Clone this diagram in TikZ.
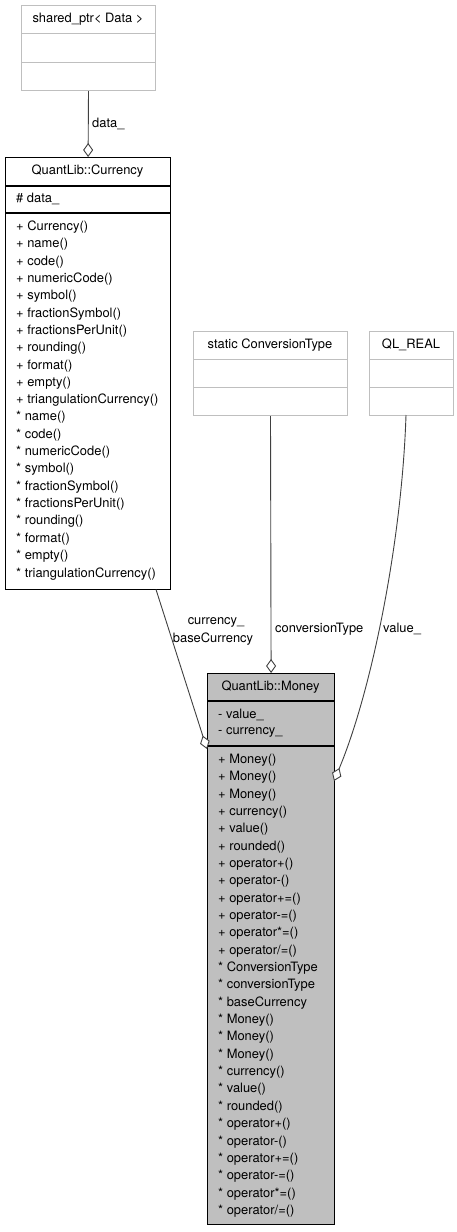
\documentclass[tikz,border=0pt]{standalone}
\usepackage{fontspec}
\setmainfont{TeX Gyre Heros}
\usetikzlibrary{arrows.meta}
\definecolor{edgecol}{RGB}{64,64,64}
\definecolor{grey75}{RGB}{191,191,191}
\begin{document}
\begin{tikzpicture}[x=1pt,y=-1pt,
  txt/.style={font=\fontsize{12.9}{14}\selectfont, inner sep=0pt},
  extbox/.style={draw=grey75, line width=1pt, inner sep=0pt, anchor=north west},
  clsbox/.style={draw=black, line width=1.2pt, inner sep=0pt, anchor=north west},
  extsep/.style={draw=grey75, line width=1pt},
  clssep/.style={draw=black, line width=1.2pt},
  conn/.style={draw=edgecol, line width=0.9pt, -{Diamond[length=14pt,width=10pt,fill=white,line width=0.9pt]}},
  lbl/.style={txt}]
\useasboundingbox (0,0) rectangle (456,1232);

% shared_ptr< Data >
\node[extbox, minimum width=134pt, minimum height=85pt] (sp) at (21,5) {};
\draw[extsep] (21,33) -- (155,33);
\draw[extsep] (21,62) -- (155,62);
\node[txt] (sptitle) at (88,19) {shared\_ptr< Data >};

% QuantLib::Currency
\node[clsbox, minimum width=165pt, minimum height=432pt] (cur) at (5,157) {};
\draw[clssep] (5,186) -- (170,186);
\draw[clssep] (5,213) -- (170,213);
\node[txt] (curtitle) at (87.5,171) {QuantLib::Currency};
\node[txt, anchor=west] (curattr) at (16,199) {\# data\_};
\foreach \m [count=\i from 0] in {+ Currency(), + name(), + code(), + numericCode(), + symbol(), + fractionSymbol(), + fractionsPerUnit(), + rounding(), + format(), + empty(), + triangulationCurrency(), * name(), * code(), * numericCode(), * symbol(), * fractionSymbol(), * fractionsPerUnit(), * rounding(), * format(), * empty(), * triangulationCurrency()}
  \node[txt, anchor=west] (curm\i) at (16,227+17.33*\i) {\m};

% static ConversionType
\node[extbox, minimum width=154pt, minimum height=84pt] (ct) at (193,331) {};
\draw[extsep] (193,359) -- (347,359);
\draw[extsep] (193,387) -- (347,387);
\node[txt] (cttitle) at (270,345) {static ConversionType};

% QL_REAL
\node[extbox, minimum width=84pt, minimum height=84pt] (ql) at (369,331) {};
\draw[extsep] (369,359) -- (453,359);
\draw[extsep] (369,387) -- (453,387);
\node[txt] (qltitle) at (411,345) {QL\_REAL};

% QuantLib::Money
\node[clsbox, fill=grey75, minimum width=127pt, minimum height=551pt] (money) at (207,673) {};
\draw[clssep] (207,701) -- (334,701);
\draw[clssep] (207,746) -- (334,746);
\node[txt] (moneytitle) at (270.5,687) {QuantLib::Money};
\node[txt, anchor=west] (moneya1) at (218,715) {- value\_};
\node[txt, anchor=west] (moneya2) at (218,732) {- currency\_};
\foreach \m [count=\i from 0] in {+ Money(), + Money(), + Money(), + currency(), + value(), + rounded(), + operator+(), + operator-(), + operator+=(), + operator-=(), + operator*=(), + operator/=(), * ConversionType, * conversionType, * baseCurrency, * Money(), * Money(), * Money(), * currency(), * value(), * rounded(), * operator+(), * operator-(), * operator+=(), * operator-=(), * operator*=(), * operator/=()}
  \node[txt, anchor=west] (moneym\i) at (218,760+17.35*\i) {\m};

% connectors
\draw[conn] (sp.south) -- (cur.north);
\node[lbl, anchor=west] (ldata) at (92,124) {data\_};

\coordinate (curout) at (156,589.5);
\coordinate (moneyin) at (207,749);
\draw[conn] (curout) -- (moneyin);
\node[lbl] (lcur1) at (216,622) {currency\_};
\node[lbl] (lcur2) at (213,639) {baseCurrency};

\draw[conn] (ct.south) -- (money.north);
\node[lbl, anchor=west] (lct) at (275,629) {conversionType};

\coordinate (qlout) at (406,415);
\coordinate (moneyv) at (334,781);
\draw[conn] (qlout) .. controls (402,540) and (372,690) .. (moneyv);
\node[lbl, anchor=west] (lval) at (383,629) {value\_};
\end{tikzpicture}
\end{document}
